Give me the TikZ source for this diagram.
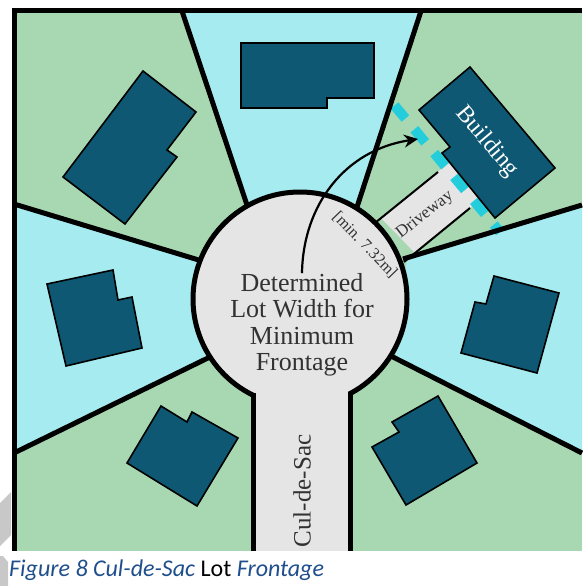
\documentclass[tikz,border=0pt]{standalone}
\usepackage{fontspec}
\setmainfont{Liberation Serif}
\newfontfamily\captionfont{Carlito}
\usepackage{xcolor}
\usetikzlibrary{arrows.meta}
\definecolor{lotGreen}{RGB}{168, 216, 178}
\definecolor{lotCyan}{RGB}{166, 235, 239}
\definecolor{roadGray}{RGB}{229, 229, 229}
\definecolor{houseBlue}{RGB}{15, 88, 115}
\definecolor{setbackCyan}{RGB}{36, 205, 220}
\definecolor{capBlue}{RGB}{31, 78, 140}
\definecolor{markGray}{RGB}{200, 200, 200}
\definecolor{inkGray}{RGB}{50, 50, 50}
\tikzset{
    lotline/.style={
        black,
        line width=5pt
    },
    house/.style={
        draw=black,
        fill=houseBlue,
        line width=1.6pt,
        line join=miter
    },
    roadtext/.style={
        text=inkGray,
        align=center,
        inner sep=0pt
    },
    driveline/.style={
        black,
        line width=2pt
    },
    setback/.style={
        setbackCyan,
        line width=10pt,
        dash pattern=on 17pt off 14pt
    },
    flow/.style={
        -{Stealth[length=14pt,width=13pt]},
        black,
        line width=2.2pt
    }
}
\begin{document}
\begin{tikzpicture}[x=1pt,y=-1pt]
  \useasboundingbox (0,0) rectangle (582,586);

  % The watermark
  \fill[markGray] (0,503) -- (11,492) -- (11,535) -- (0,546) -- cycle;
  \fill[markGray] (0,556) -- (3,556) -- (8,562) -- (8,586) -- (0,586) -- cycle;

  % The lots
  \fill[lotGreen] (14,11) rectangle (582,551);
  \fill[lotCyan] (182,11) -- (421,11) -- (358,203) -- (246,202) -- cycle;
  \fill[lotCyan] (14,204) -- (198,260) -- (208,358) -- (14,453) -- cycle;
  \fill[lotCyan] (582,205) -- (407,258) -- (395,358) -- (582,453) -- cycle;

  % The driveway
  \fill[roadGray] (381,218) -- (450,162) -- (480,200) -- (415,253) -- cycle;
  \draw[driveline] (370,227) -- (438,172);
  \draw[driveline] (404,262) -- (470,208);
  \draw[setback] (394.5,105.5) -- (500,232);

  % The lot lines
  \draw[lotline] (182,11) -- (247,205);
  \draw[lotline] (421,11) -- (357,207);
  \draw[lotline] (14,204) -- (202,261);
  \draw[lotline] (14,453) -- (212,356);
  \draw[lotline] (582,205) -- (403,259);
  \draw[lotline] (582,453) -- (391,356);

  % The turnaround
  \node[circle, draw=black, fill=roadGray, line width=5pt, minimum size=214pt, inner sep=0pt] (turnaround) at (300,299) {};
  \fill[roadGray] (255,375) rectangle (348,551);
  \draw[lotline] (253,393) -- (253,551);
  \draw[lotline] (350,393) -- (350,551);

  % The frame
  \draw[lotline] (14,8.5) -- (14,551);
  \draw[lotline] (11.5,11) -- (582,11);

  % The buildings
  \draw[house] (143,71) -- (196,112) -- (167,150) -- (177,157) -- (125,224) -- (63,177) -- cycle;
  \draw[house] (241,43) -- (374,43) -- (374,98) -- (327,98) -- (327,108) -- (241,108) -- cycle;
  \draw[house] (470,67) -- (555,168) -- (495,218) -- (442,153) -- (450,147) -- (419,110) -- cycle;
  \draw[house] (47,284) -- (113,270) -- (118,300) -- (132,297) -- (142,348) -- (66,366) -- cycle;
  \draw[house] (494,276) -- (559,293) -- (537,373) -- (461,353) -- (475,302) -- (486,304) -- cycle;
  \draw[house] (161,406) -- (187,422) -- (192,412) -- (238,438) -- (197,506) -- (127,463) -- cycle;
  \draw[house] (438,396) -- (477,463) -- (406,505) -- (372,447) -- (399,432) -- (392,422) -- cycle;

  % The labels
  \node[roadtext, font=\fontsize{26}{26.5}\selectfont] (lotwidth) at (302,325) {Determined\\Lot Width for\\Minimum\\Frontage};
  \node[roadtext, font=\fontsize{16}{18}\selectfont, rotate=-46] (minwidth) at (365,245) {[min. 7.32m]};
  \node[roadtext, font=\fontsize{17}{19}\selectfont, rotate=38] (driveway) at (425,215) {Driveway};
  \node[roadtext, text=white, font=\fontsize{24}{26}\selectfont, rotate=-50] (building) at (487,142) {Building};
  \node[roadtext, font=\fontsize{25}{27}\selectfont, rotate=90] (culdesac) at (302,491) {Cul-de-Sac};

  % The arrow
  \coordinate (arrowtip) at (418,139);
  \draw[flow] (lotwidth.north) .. controls (303,205) and (345,150) .. (arrowtip);

  % The caption
  \node[anchor=base west, inner sep=0pt, font=\captionfont\fontsize{24}{26}\selectfont] (caption) at (9,576) {\textcolor{capBlue}{\itshape Figure 8 Cul-de-Sac} Lot \textcolor{capBlue}{\itshape Frontage}};
\end{tikzpicture}
\end{document}
